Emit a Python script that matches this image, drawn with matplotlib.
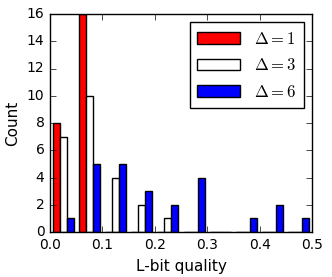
import numpy as np
import matplotlib
matplotlib.use("Agg")
import matplotlib.pyplot as plt

# Histogram counts per bin (10 bins of width 0.05 on [0, 0.5])
BIN_EDGES = [0.0, 0.05, 0.1, 0.15, 0.2, 0.25, 0.3, 0.35, 0.4, 0.45, 0.5]
COUNT_D1 = [8, 16, 0, 0, 0, 0, 0, 0, 0, 0]
COUNT_D3 = [7, 10, 4, 2, 1, 0, 0, 0, 0, 0]
COUNT_D6 = [1, 5, 5, 3, 2, 4, 0, 1, 2, 1]
LABELS = [r"$\Delta = 1$", r"$\Delta = 3$", r"$\Delta = 6$"]
COLORS = ["#ff0000", "#ffffff", "#0000ff"]

plt.style.use("classic")
plt.rcParams.update({
    "font.family": "sans-serif",
    "font.sans-serif": ["DejaVu Sans"],
    "font.size": 10,
    "mathtext.fontset": "cm",
})

edges = np.array(BIN_EDGES)
centers = (edges[:-1] + edges[1:]) / 2

fig = plt.figure(figsize=(3.32, 2.77), dpi=100)
ax = fig.add_axes([50 / 332, 45 / 277, 262 / 332, 218 / 277])

ax.hist([centers] * 3, bins=edges,
        weights=[COUNT_D1, COUNT_D3, COUNT_D6],
        color=COLORS, label=LABELS, rwidth=0.8,
        edgecolor="black", linewidth=1.0)

ax.set_xlim(0, 0.5)
ax.set_ylim(0, 16)
ax.set_xticks([0.0, 0.1, 0.2, 0.3, 0.4, 0.5])
ax.set_yticks(range(0, 17, 2))
ax.tick_params(labelsize=10)
ax.set_xlabel("L-bit quality", fontsize=11)
ax.set_ylabel("Count", fontsize=11)

ax.legend(loc="upper right", fontsize=12, fancybox=False,
          handlelength=2.6, borderpad=0.45, labelspacing=0.5)

fig.savefig("out.png", dpi=100)
